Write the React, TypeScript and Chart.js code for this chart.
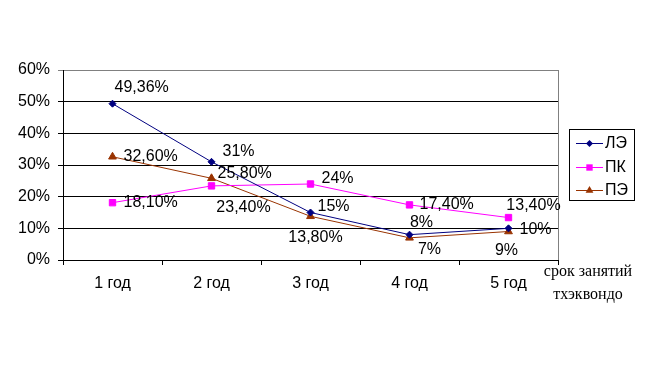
import React, { useEffect, useRef } from "react";
import { Chart, registerables } from "chart.js";

Chart.register(...registerables);

const categories = ["1 год", "2 год", "3 год", "4 год", "5 год"];
const seriesNames = ["ЛЭ", "ПК", "ПЭ"];
const valuesLE = [49.36, 31, 15, 8, 10];
const valuesPK = [18.1, 23.4, 24, 17.4, 13.4];
const valuesPE = [32.6, 25.8, 13.8, 7, 9];
const labelsLE = ["49,36%", "31%", "15%", "8%", "10%"];
const labelsPK = ["18,10%", "23,40%", "24%", "17,40%", "13,40%"];
const labelsPE = ["32,60%", "25,80%", "13,80%", "7%", "9%"];
const yTicks = [0, 10, 20, 30, 40, 50, 60];
const xTitle = ["срок занятий", "тхэквондо"];

// label placement: [dx, dy, align]
const labelPlace: [number, number, CanvasTextAlign][][] = [
  [[2, -16, "left"], [11, -10, "left"], [7, -6, "left"], [12, -12, "center"], [11, 1, "left"]],
  [[11, 0, "left"], [32, 22, "center"], [11, -5, "left"], [10, 0, "left"], [25, -12, "center"]],
  [[11, 0, "left"], [6, -5, "left"], [5, 21, "center"], [20, 12, "center"], [-2, 19, "center"]],
];

const colors = ["#000080", "#FF00FF", "#993300"];
const markers = ["rectRot", "rect", "triangle"];
const radii = [3.5, 4.5, 4.5];
const FAMILY = "'Liberation Sans', Arial, sans-serif";
const FONT = "16px " + FAMILY;

export default function App() {
  const ref = useRef<HTMLCanvasElement>(null);
  useEffect(() => {
    document.body.style.margin = "0";
    const allLabels = [labelsLE, labelsPK, labelsPE];
    function drawMarker(ctx: any, style: string, r: number, x: number, y: number) {
      ctx.beginPath();
      if (style === "rect") {
        const s = Math.SQRT1_2 * r;
        ctx.rect(x - s, y - s, 2 * s, 2 * s);
      } else if (style === "rectRot") {
        ctx.moveTo(x, y - r);
        ctx.lineTo(x + r, y);
        ctx.lineTo(x, y + r);
        ctx.lineTo(x - r, y);
        ctx.closePath();
      } else {
        ctx.moveTo(x, y - r);
        ctx.lineTo(x + r * 0.87, y + r * 0.5);
        ctx.lineTo(x - r * 0.87, y + r * 0.5);
        ctx.closePath();
      }
      ctx.fill();
    }
    const extras = {
      id: "extras",
      afterDatasetsDraw(chart: any) {
        const ctx = chart.ctx;
        const ca = chart.chartArea;
        ctx.save();
        ctx.strokeStyle = "#808080";
        ctx.lineWidth = 1;
        ctx.beginPath();
        ctx.moveTo(Math.round(ca.right) + 0.5, ca.top);
        ctx.lineTo(Math.round(ca.right) + 0.5, ca.bottom);
        ctx.stroke();
        ctx.font = FONT;
        ctx.fillStyle = "#000";
        ctx.textBaseline = "middle";
        chart.data.datasets.forEach((ds: any, di: number) => {
          const meta = chart.getDatasetMeta(di);
          meta.data.forEach((pt: any, i: number) => {
            const [dx, dy, al] = labelPlace[di][i];
            ctx.textAlign = al;
            ctx.fillText(allLabels[di][i], pt.x + dx, pt.y + dy);
          });
        });
        ctx.font = "16px 'Liberation Serif', 'Times New Roman', serif";
        ctx.textAlign = "center";
        ctx.fillText(xTitle[0], 588, 272);
        ctx.fillText(xTitle[1], 588, 295);
        ctx.strokeStyle = "#000";
        ctx.strokeRect(569.5, 129.5, 65, 71);
        const ys = [143, 167, 190];
        seriesNames.forEach((n, i) => {
          ctx.strokeStyle = colors[i];
          ctx.beginPath();
          ctx.moveTo(576, ys[i] + 0.5);
          ctx.lineTo(603, ys[i] + 0.5);
          ctx.stroke();
          ctx.fillStyle = colors[i];
          drawMarker(ctx, markers[i], radii[i], 589.5, ys[i] + 0.5);
          ctx.fillStyle = "#000";
          ctx.font = FONT;
          ctx.textAlign = "left";
          ctx.fillText(n, 605, ys[i] + 1);
        });
        ctx.restore();
      },
    };
    const mk = (label: string, data: number[], i: number) => ({
      label,
      data,
      borderColor: colors[i],
      backgroundColor: colors[i],
      borderWidth: 1,
      pointStyle: markers[i],
      pointRadius: radii[i],
      pointBorderWidth: 1,
      tension: 0,
    });
    const chart = new Chart(ref.current!, {
      type: "line",
      data: {
        labels: categories,
        datasets: [mk(seriesNames[0], valuesLE, 0), mk(seriesNames[1], valuesPK, 1), mk(seriesNames[2], valuesPE, 2)],
      },
      options: {
        animation: false,
        responsive: false,
        events: [],
        layout: { padding: { top: 70, right: 87, left: 0, bottom: 0 } },
        plugins: { legend: { display: false }, tooltip: { enabled: false } },
        scales: {
          x: {
            offset: true,
            afterFit: (s: any) => { s.height = 108; },
            grid: { offset: true, drawOnChartArea: false, tickLength: 5, color: "#000" },
            border: { color: "#000" },
            ticks: { color: "#000", font: { family: FAMILY, size: 16 }, padding: 9 },
          },
          y: {
            min: 0,
            max: 60,
            afterFit: (s: any) => { s.width = 63; },
            afterBuildTicks: (s: any) => { s.ticks = yTicks.map((v) => ({ value: v })); },
            grid: {
              tickLength: 5,
              color: (c: any) => (c.tick && c.tick.value === 60 ? "#808080" : "#000"),
            },
            border: { color: "#000" },
            ticks: {
              color: "#000",
              font: { family: FAMILY, size: 16 },
              padding: 8,
              callback: (v: any) => v + "%",
            },
          },
        },
      },
      plugins: [extras],
    });
    return () => chart.destroy();
  }, []);
  return (
    <div style={{ width: 645, height: 368 }}>
      <canvas ref={ref} width={645} height={368} style={{ display: "block" }} />
    </div>
  );
}
